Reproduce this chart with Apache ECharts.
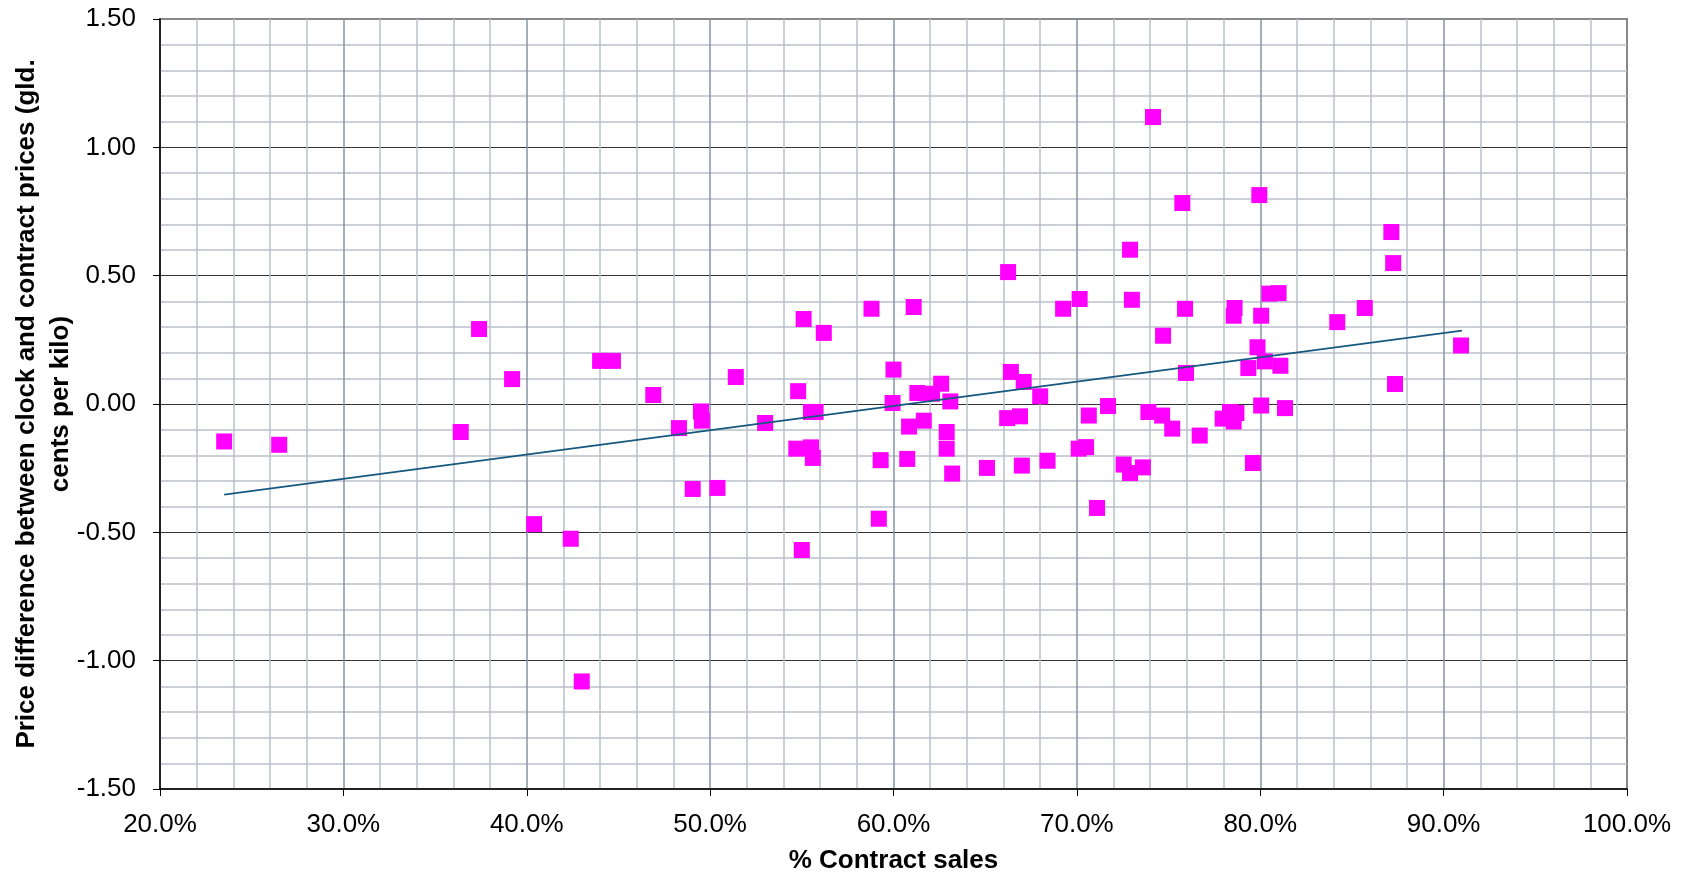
<!DOCTYPE html>
<html>
<head>
<meta charset="utf-8">
<script src="https://cdn.jsdelivr.net/npm/echarts@6/dist/echarts.min.js"></script>
<style>
html,body{margin:0;padding:0;background:#ffffff;}
#chart{width:1688px;height:874px;}
</style>
</head>
<body>
<div id="chart"></div>
<script>
// % contract sales (x) and price difference (y)
const contractPct = [
  23.5, 26.5, 36.4, 37.4, 39.2, 40.4, 42.4, 43.0, 44.0, 44.7,
  46.9, 48.3, 49.5, 49.55, 49.05, 50.4, 51.4, 53.0, 54.8, 54.7,
  55.0, 55.1, 55.5, 55.75, 55.5, 55.6, 56.2, 58.8, 59.2, 59.3,
  60.0, 59.95, 60.75, 60.85, 61.1, 61.3, 61.65, 62.1, 62.6, 62.9,
  62.9, 63.1, 63.2, 65.1, 66.2, 66.25, 66.4, 66.9, 67.0, 67.1,
  68.0, 68.4, 69.25, 70.1, 70.5, 70.15, 70.65, 71.1, 71.7, 72.55,
  72.9, 72.9, 73.0, 73.6, 73.9, 74.15, 74.65, 74.7, 75.2, 75.75,
  75.9, 75.95, 76.7, 77.95, 78.35, 78.6, 78.55, 78.7, 78.55, 79.35,
  79.6, 79.95, 79.85, 80.05, 80.05, 80.25, 80.5, 81.0, 81.1, 81.35,
  84.2, 85.7, 87.15, 87.25, 87.35, 90.95
];
const priceDiff = [
  -0.146, -0.159, -0.109, 0.292, 0.097, -0.468, -0.525, -1.081, 0.168, 0.168,
  0.035, -0.094, -0.029, -0.065, -0.331, -0.327, 0.105, -0.074, 0.050, -0.174,
  -0.569, 0.331, -0.031, -0.031, -0.169, -0.210, 0.277, 0.371, -0.447, -0.219,
  0.134, 0.004, -0.214, -0.088, 0.378, 0.043, -0.065, 0.040, 0.079, -0.109,
  -0.174, 0.010, -0.271, -0.249, -0.055, 0.514, 0.125, -0.048, -0.240, 0.086,
  0.030, -0.221, 0.371, -0.174, -0.168, 0.409, -0.045, -0.405, -0.008, -0.236,
  0.601, -0.269, 0.406, -0.247, -0.031, 1.118, -0.045, 0.266, -0.096, 0.783,
  0.371, 0.121, -0.123, -0.057, -0.031, 0.374, 0.344, -0.035, -0.068, 0.140,
  -0.230, 0.814, 0.221, 0.344, -0.006, 0.166, 0.430, 0.432, 0.149, -0.016,
  0.319, 0.374, 0.670, 0.549, 0.078, 0.228
];
// linear trend line end points
const trendPct = [23.5, 91.0];
const trendDiff = [-0.353, 0.286];

const xTitle = '% Contract sales';
const yTitle = 'Price difference between clock and contract prices (gld.\ncents per kilo)';

const scatterData = contractPct.map((x, i) => [x, priceDiff[i]]);
const trendData = trendPct.map((x, i) => [x, trendDiff[i]]);

const FONT = '"Liberation Sans", Arial, Helvetica, sans-serif';
const chart = echarts.init(document.getElementById('chart'), null, {renderer: 'canvas'});
chart.setOption({
  animation: false,
  backgroundColor: '#ffffff',
  textStyle: {fontFamily: FONT},
  grid: {
    left: 160, right: 61, top: 19, bottom: 85,
    outerBoundsMode: 'none', containLabel: false,
    show: true, borderColor: '#888888', borderWidth: 2, backgroundColor: '#ffffff'
  },
  xAxis: {
    type: 'value', min: 20, max: 100, interval: 10,
    name: xTitle, nameLocation: 'middle', nameGap: 59, nameMoveOverlap: false,
    nameTextStyle: {fontFamily: FONT, fontSize: 26, fontWeight: 'bold', color: '#000'},
    axisLine: {show: true, onZero: false, lineStyle: {color: '#000', width: 1.5}},
    axisTick: {show: true, length: 7, lineStyle: {color: '#000', width: 1}},
    axisLabel: {fontFamily: FONT, fontSize: 26, color: '#000', margin: 23,
      formatter: v => v.toFixed(1) + '%'},
    splitLine: {show: true, showMinLine: false, showMaxLine: false, lineStyle: {color: '#8793a6', width: 1.5}},
    minorTick: {show: false, splitNumber: 5},
    minorSplitLine: {show: true, lineStyle: {color: '#b9c0cc', width: 1.5}}
  },
  yAxis: {
    type: 'value', min: -1.5, max: 1.5, interval: 0.5,
    name: yTitle, nameLocation: 'middle', nameGap: 82, nameRotate: 90, nameMoveOverlap: false,
    nameTextStyle: {fontFamily: FONT, fontSize: 26, fontWeight: 'bold', color: '#000', lineHeight: 34, align: 'center'},
    axisLine: {show: true, onZero: false, lineStyle: {color: '#000', width: 1.5}},
    axisTick: {show: true, length: 7, lineStyle: {color: '#000', width: 1}},
    axisLabel: {fontFamily: FONT, fontSize: 26, color: '#000', margin: 24,
      formatter: v => v.toFixed(2)},
    splitLine: {show: true, showMinLine: false, showMaxLine: false, lineStyle: {color: '#333333', width: 1.2}},
    minorTick: {show: false, splitNumber: 5},
    minorSplitLine: {show: true, lineStyle: {color: '#b9c0cc', width: 1.5}}
  },
  series: [
    {
      type: 'scatter', data: scatterData, symbol: 'rect', symbolSize: 16,
      itemStyle: {color: '#ff00ff', opacity: 1}, z: 3
    },
    {
      type: 'line', data: trendData, symbol: 'none', silent: true,
      lineStyle: {color: '#17587f', width: 1.8}, z: 4
    }
  ]
});
</script>
</body>
</html>
